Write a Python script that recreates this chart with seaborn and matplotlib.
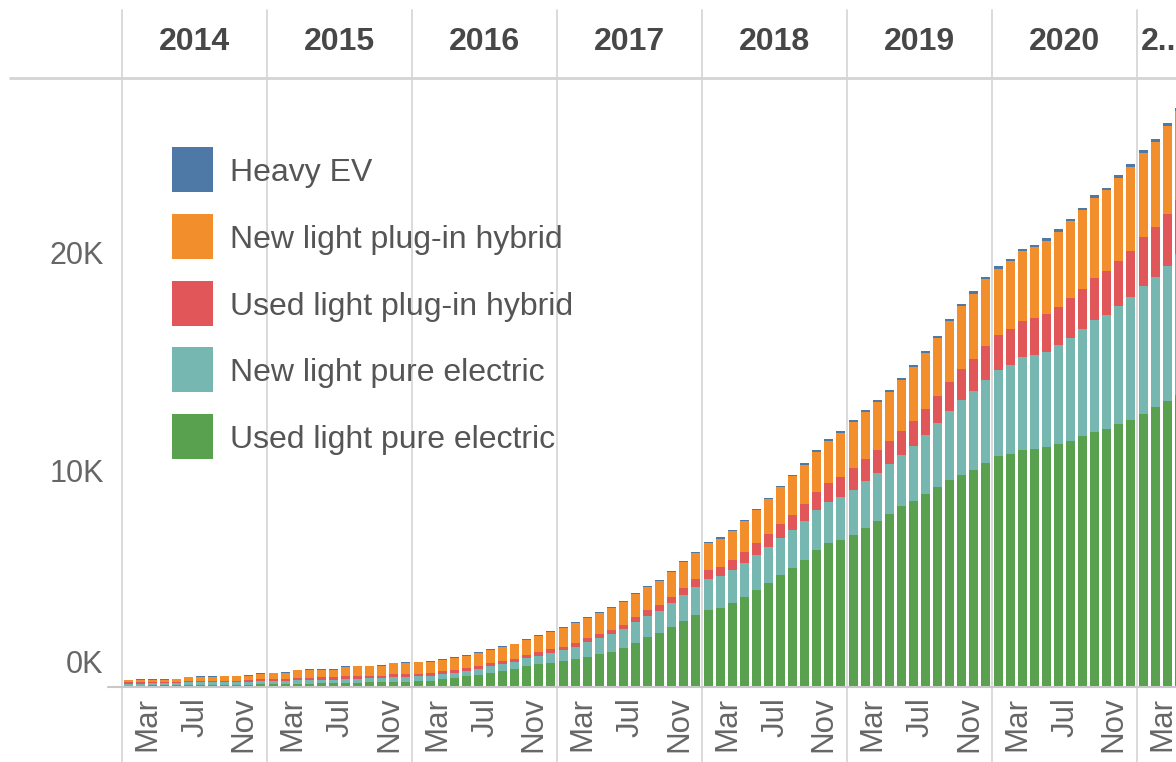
import pandas as pd
import matplotlib.pyplot as plt
import matplotlib.transforms as mtrans
from matplotlib.patches import Rectangle
import seaborn as sns

# EV fleet by month, Jan 2014 - Apr 2021, in thousands of vehicles
years = [2014, 2015, 2016, 2017, 2018, 2019, 2020, 2021]
month_names = ["Jan", "Feb", "Mar", "Apr", "May", "Jun",
               "Jul", "Aug", "Sep", "Oct", "Nov", "Dec"]
tick_months = ["Mar", "Jul", "Nov"]

legend_order = ["Heavy EV", "New light plug-in hybrid", "Used light plug-in hybrid",
                "New light pure electric", "Used light pure electric"]
colors = ["#4e79a7", "#f28e2b", "#e15759", "#76b7b2", "#59a14f"]

used_bev = [
    0.06, 0.06, 0.07, 0.07, 0.07, 0.09, 0.09, 0.10, 0.10, 0.10, 0.11, 0.12,
    0.13, 0.13, 0.16, 0.16, 0.17, 0.17, 0.20, 0.20, 0.21, 0.21, 0.24, 0.25,
    0.27, 0.28, 0.36, 0.40, 0.50, 0.56, 0.65, 0.75, 0.82, 0.95, 1.05, 1.12,
    1.20, 1.28, 1.40, 1.50, 1.63, 1.78, 2.05, 2.30, 2.48, 2.75, 3.05, 3.30,
    3.55, 3.62, 3.85, 4.16, 4.47, 4.78, 5.16, 5.47, 5.85, 6.31, 6.62, 6.77,
    7.02, 7.35, 7.67, 7.99, 8.32, 8.56, 8.88, 9.21, 9.53, 9.77, 10.01, 10.34,
    10.65, 10.75, 10.90, 10.95, 11.05, 11.20, 11.35, 11.55, 11.75, 11.90, 12.10, 12.30,
    12.60, 12.90, 13.20, 13.45,
]
new_bev = [
    0.10, 0.10, 0.10, 0.10, 0.10, 0.12, 0.12, 0.12, 0.12, 0.12, 0.12, 0.14,
    0.14, 0.14, 0.16, 0.16, 0.16, 0.16, 0.19, 0.19, 0.19, 0.19, 0.22, 0.22,
    0.22, 0.23, 0.24, 0.25, 0.26, 0.28, 0.30, 0.32, 0.34, 0.37, 0.40, 0.45,
    0.50, 0.58, 0.66, 0.74, 0.80, 0.88, 0.93, 0.98, 1.04, 1.10, 1.18, 1.30,
    1.45, 1.50, 1.52, 1.55, 1.60, 1.68, 1.72, 1.77, 1.82, 1.86, 1.92, 2.00,
    2.08, 2.14, 2.20, 2.27, 2.36, 2.55, 2.75, 2.95, 3.20, 3.45, 3.62, 3.80,
    3.95, 4.10, 4.30, 4.35, 4.40, 4.55, 4.75, 4.95, 5.15, 5.25, 5.45, 5.65,
    5.90, 6.00, 6.20, 6.50,
]
used_phev = [
    0.05, 0.05, 0.05, 0.05, 0.06, 0.07, 0.07, 0.07, 0.07, 0.07, 0.07, 0.09,
    0.10, 0.10, 0.11, 0.11, 0.11, 0.11, 0.12, 0.12, 0.12, 0.12, 0.12, 0.12,
    0.12, 0.12, 0.12, 0.13, 0.13, 0.13, 0.14, 0.14, 0.14, 0.15, 0.15, 0.16,
    0.16, 0.17, 0.18, 0.19, 0.20, 0.22, 0.24, 0.26, 0.28, 0.30, 0.33, 0.36,
    0.40, 0.43, 0.48, 0.52, 0.56, 0.60, 0.65, 0.70, 0.76, 0.82, 0.88, 0.93,
    0.97, 1.00, 1.04, 1.08, 1.12, 1.16, 1.20, 1.26, 1.34, 1.42, 1.50, 1.58,
    1.60, 1.63, 1.66, 1.70, 1.74, 1.78, 1.82, 1.86, 1.95, 2.02, 2.10, 2.16,
    2.22, 2.30, 2.42, 2.50,
]
new_phev = [
    0.11, 0.12, 0.12, 0.12, 0.12, 0.18, 0.19, 0.19, 0.20, 0.21, 0.21, 0.27,
    0.26, 0.27, 0.34, 0.35, 0.35, 0.36, 0.43, 0.44, 0.44, 0.45, 0.51, 0.51,
    0.52, 0.53, 0.54, 0.55, 0.56, 0.58, 0.60, 0.63, 0.66, 0.70, 0.76, 0.82,
    0.87, 0.92, 0.95, 0.98, 1.00, 1.02, 1.06, 1.08, 1.10, 1.14, 1.18, 1.22,
    1.24, 1.28, 1.34, 1.42, 1.52, 1.60, 1.68, 1.78, 1.82, 1.86, 1.92, 2.02,
    2.14, 2.18, 2.22, 2.26, 2.36, 2.48, 2.58, 2.66, 2.80, 2.90, 3.00, 3.06,
    3.08, 3.14, 3.22, 3.26, 3.36, 3.46, 3.54, 3.60, 3.68, 3.72, 3.80, 3.84,
    3.88, 3.92, 4.05, 4.10,
]
heavy = [
    0.02, 0.02, 0.02, 0.02, 0.02, 0.02, 0.02, 0.02, 0.02, 0.02, 0.02, 0.02,
    0.03, 0.03, 0.03, 0.03, 0.03, 0.03, 0.03, 0.03, 0.03, 0.03, 0.03, 0.03,
    0.04, 0.04, 0.04, 0.04, 0.04, 0.04, 0.04, 0.04, 0.04, 0.04, 0.04, 0.04,
    0.05, 0.05, 0.05, 0.05, 0.05, 0.05, 0.05, 0.05, 0.05, 0.05, 0.05, 0.05,
    0.06, 0.06, 0.06, 0.06, 0.07, 0.07, 0.07, 0.07, 0.07, 0.08, 0.08, 0.08,
    0.08, 0.08, 0.08, 0.09, 0.09, 0.09, 0.09, 0.10, 0.10, 0.10, 0.10, 0.11,
    0.11, 0.11, 0.11, 0.11, 0.12, 0.12, 0.12, 0.12, 0.12, 0.12, 0.13, 0.13,
    0.13, 0.13, 0.13, 0.13,
]

df = pd.DataFrame({
    "month": range(len(used_bev)),
    "Used light pure electric": used_bev,
    "New light pure electric": new_bev,
    "Used light plug-in hybrid": used_phev,
    "New light plug-in hybrid": new_phev,
    "Heavy EV": heavy,
})
stack_order = legend_order[::-1]          # bottom -> top
cum = df[stack_order].cumsum(axis=1)
palette = dict(zip(legend_order, colors))

sns.set_style("white")
plt.rcParams["font.family"] = ["Liberation Sans", "DejaVu Sans"]

W, H = 1176, 762
fig = plt.figure(figsize=(W / 100, H / 100), dpi=100)
# plot area in pixels: x 122..1176, y 78..687
ax = fig.add_axes([122 / W, (H - 687) / H, (W - 122) / W, 609 / H])

# stacked bars: draw cumulative totals from the top layer down
for name in reversed(stack_order):
    sns.barplot(x=df["month"], y=cum[name], color=palette[name], saturation=1,
                width=0.75, linewidth=0, errorbar=None, ax=ax, zorder=2)

ax.set_xlim(-0.5, -0.5 + 1054 / (145 / 12))
ax.set_ylim(0, 609 / 21.7)
ax.set_xlabel("")
ax.set_ylabel("")
for s in ax.spines.values():
    s.set_visible(False)

# month ticks
pos, labs = [], []
for k in range(len(years)):
    for m in tick_months:
        i = 12 * k + month_names.index(m)
        if i < len(df):
            pos.append(i)
            labs.append(m)
ax.set_xticks(pos)
ax.set_xticklabels(labs, rotation=90, ha="center", va="top")
ax.tick_params(axis="x", length=0, pad=7, labelsize=22.5, labelcolor="#666666")
shift = mtrans.ScaledTranslation(-5 / 100, 0, fig.dpi_scale_trans)
for lbl in ax.get_xticklabels():
    lbl.set_transform(lbl.get_transform() + shift)

# value axis
ax.set_yticks([0, 10, 20])
ax.set_yticklabels(["", "10K", "20K"])
ax.tick_params(axis="y", length=7, width=1, color="#cccccc", pad=6,
               labelsize=22, labelcolor="#666666")
ax.annotate("0K", xy=(0, 0), xycoords=("axes fraction", "data"),
            xytext=(-19, 22), textcoords="offset pixels",
            ha="right", va="center", fontsize=22, color="#666666")

# frame lines
ax.axhline(0, xmin=-14 / 1054, xmax=1, color="#c8c8c8", lw=1.5,
           clip_on=False, zorder=3)
ax.plot([-112 / 1054, 1], [1, 1], transform=ax.transAxes, color="#d4d4d4",
        lw=2, clip_on=False, zorder=3)
for k in range(len(years)):
    ax.axvline(12 * k - 0.5, ymin=-75 / 609, ymax=1 + 68 / 609, color="#dadada",
               lw=1.4, clip_on=False, zorder=1)

# year header
hdr = mtrans.blended_transform_factory(ax.transData, ax.transAxes)
for k, y in enumerate(years[:-1]):
    ax.text(12 * k + 5.5, 1 + 36 / 609, str(y), transform=hdr, ha="center",
            va="center", fontsize=23, fontweight="bold", color="#474747")
ax.text(83.85, 1 + 36 / 609, str(years[-1])[0] + "..", transform=hdr, ha="left",
        va="center", fontsize=23, fontweight="bold", color="#474747")

# legend
row_tops = [147, 214, 281, 347, 414]
for name, top in zip(legend_order, row_tops):
    fig.add_artist(Rectangle((172 / W, 1 - (top + 45) / H), 41 / W, 45 / H,
                             transform=fig.transFigure, facecolor=palette[name],
                             edgecolor="none"))
    fig.text(230 / W, 1 - (top + 26) / H, name, ha="left", va="center",
             fontsize=23, color="#555555")

fig.savefig("out.png", dpi=100)
